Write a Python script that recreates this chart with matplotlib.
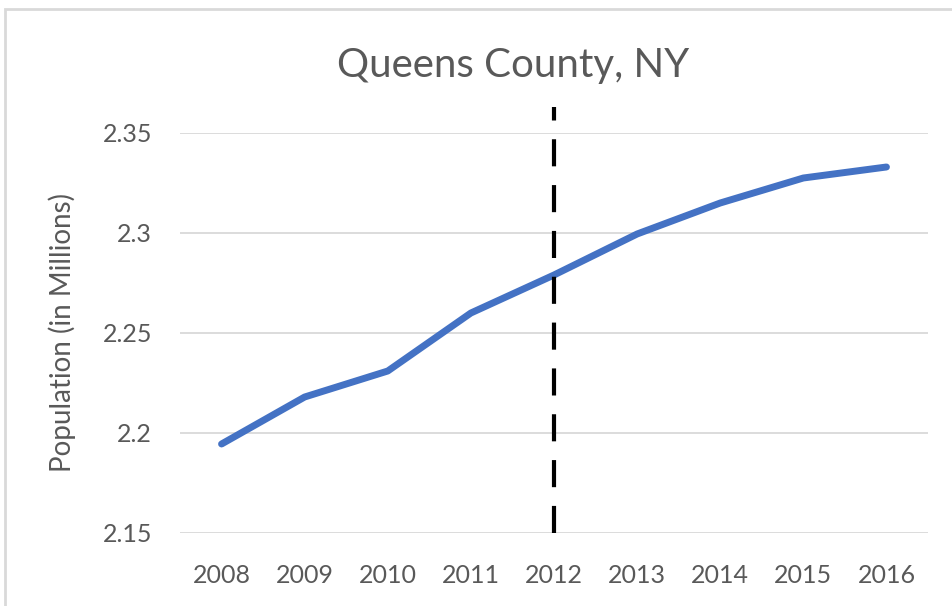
import matplotlib.pyplot as plt
from matplotlib.patches import Rectangle

years = ["2008", "2009", "2010", "2011", "2012", "2013", "2014", "2015", "2016"]
population = [2.1945, 2.218, 2.231, 2.260, 2.279, 2.2995, 2.315, 2.3275, 2.333]
yticks = [2.15, 2.2, 2.25, 2.3, 2.35]
ytick_labels = ["2.15", "2.2", "2.25", "2.3", "2.35"]
marker_year = "2012"

plt.rcParams['font.family'] = ['Lato', 'DejaVu Sans']
gray = "#595959"

fig = plt.figure(figsize=(9.53, 6.06), dpi=100)
fig.patches.append(Rectangle((5 / 953, -0.01), 1.05, 1 - 9 / 606 + 0.01,
                             transform=fig.transFigure, fill=False,
                             edgecolor="#d9d9d9", linewidth=2))
ax = fig.add_axes([180 / 953, 1 - 533 / 606, 748 / 953, 400 / 606])

x = list(range(len(years)))
ax.plot(x, population, color="#4472c4", linewidth=5, solid_capstyle="round", zorder=3)

xi = years.index(marker_year)
ax.plot([xi, xi], [2.15, 2.363], color="black", linewidth=3,
        linestyle=(0, (6.5, 4.5)), clip_on=False, zorder=4)

ax.set_xlim(-0.5, len(years) - 0.5)
ax.set_ylim(2.15, 2.35)
ax.set_xticks(x)
ax.set_xticklabels(years)
ax.set_yticks(yticks)
ax.set_yticklabels(ytick_labels)
ax.tick_params(length=0, labelsize=18, labelcolor=gray)
ax.tick_params(axis="x", pad=22)
ax.tick_params(axis="y", pad=20)
ax.grid(axis="y", color="#d9d9d9", linewidth=1.3)
ax.set_axisbelow(True)
for s in ax.spines.values():
    s.set_visible(False)

ax.set_ylabel("Population (in Millions)", fontsize=20, color=gray, labelpad=19)
fig.text(513 / 953, 1 - 66 / 606, "Queens County, NY", fontsize=29, color=gray,
         ha="center", va="center")

fig.savefig("out.png", dpi=100)
